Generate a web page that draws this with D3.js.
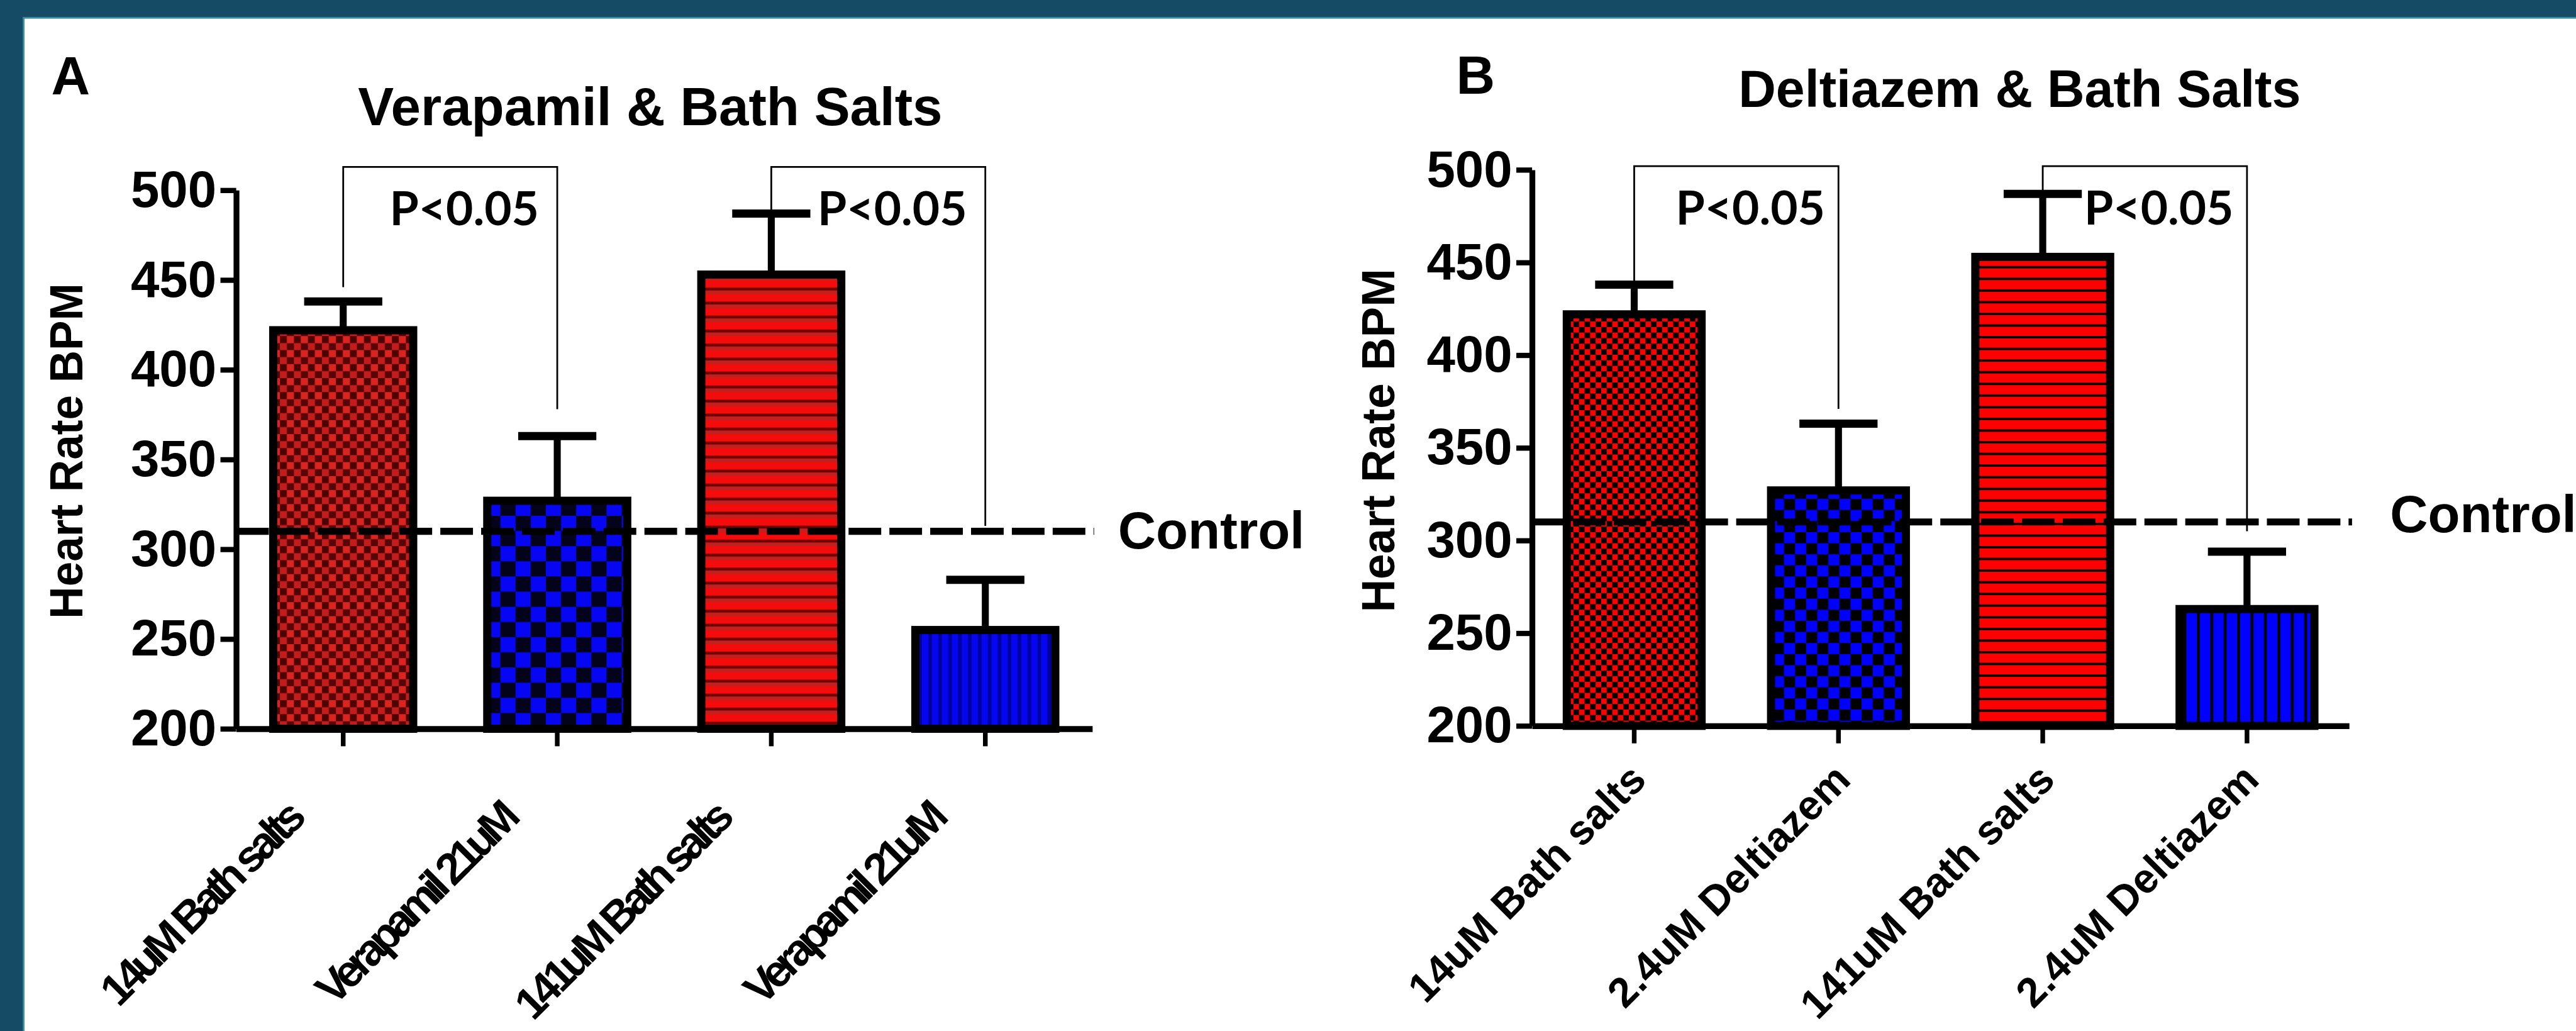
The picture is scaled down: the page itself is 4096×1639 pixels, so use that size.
<!DOCTYPE html>
<html>
<head>
<meta charset="utf-8">
<script src="https://cdn.jsdelivr.net/npm/d3@7"></script>
<style>
  html, body { margin: 0; padding: 0; background: #164b66; }
  svg { display: block; }
</style>
</head>
<body>
<svg id="chart"></svg>
<script>
// values (heart rate, BPM)
const yTicks = [200, 250, 300, 350, 400, 450, 500];
const controlBPM = 310;

const labelsA = ["14uM Bath salts", "Verapamil 21uM", "141uM Bath salts", "Verapamil 21uM"];
const meansA = [422, 327, 453, 255];
const semA = [16, 36, 34, 28];

const labelsB = ["14uM Bath salts", "2.4uM Deltiazem", "141uM Bath salts", "2.4uM Deltiazem"];
const meansB = [422, 327, 453, 263];
const semB = [16, 36, 34, 31];

// significance brackets: [left bar, right bar, top, left end, right end] (BPM)
const bracketsA = [[0, 1, 513, 446, 378], [2, 3, 513, 487, 313]];
const bracketsB = [[0, 1, 502, 440, 371], [2, 3, 502, 489, 305]];
const pText = "P<0.05";

const W = 4417, H = 1767;
const font = "'Liberation Sans', Arial, sans-serif";

const svg = d3.select("#chart")
  .attr("width", 4096).attr("height", 1639)
  .attr("viewBox", `0 0 ${W} ${H}`)
  .attr("preserveAspectRatio", "none");

// slide background
svg.append("rect").attr("width", W).attr("height", H).attr("fill", "#164b66");
svg.append("rect").attr("x", 39).attr("y", 29).attr("width", W).attr("height", H).attr("fill", "#3d8c9c");
svg.append("rect").attr("x", 42).attr("y", 32).attr("width", W).attr("height", H).attr("fill", "#fff");

// bar fills
const defs = svg.append("defs");
function addPattern(id, w, h, bg, rects) {
  const pat = defs.append("pattern").attr("id", id)
    .attr("patternUnits", "userSpaceOnUse").attr("width", w).attr("height", h);
  pat.append("rect").attr("width", w).attr("height", h).attr("fill", bg);
  rects.forEach(r => pat.append("rect")
    .attr("x", r[0]).attr("y", r[1]).attr("width", r[2]).attr("height", r[3]).attr("fill", r[4]));
}
addPattern("pA0", 24, 24, "#c21c1c", [[0, 0, 12, 12, "#4e0303"], [12, 12, 12, 12, "#560606"], [12, 0, 12, 12, "#da2420"]]);
addPattern("pA1", 52, 52, "#0606f2", [[0, 0, 26, 26, "#03031c"], [26, 26, 26, 26, "#03031c"]]);
addPattern("pA2", 24, 24, "#f40b0b", [[0, 13, 24, 5, "#700000"], [0, 18, 24, 6, "#bf2020"]]);
addPattern("pA3", 17, 17, "#0505f0", [[11, 0, 6, 17, "#00009c"]]);
addPattern("pB0", 19, 19, "#ff0000", [[0, 0, 9.5, 9.5, "#000"], [9.5, 9.5, 9.5, 9.5, "#000"]]);
addPattern("pB1", 38, 38, "#0000ff", [[0, 0, 19, 19, "#000"], [19, 19, 19, 19, "#000"]]);
addPattern("pB2", 20, 20, "#ff0000", [[0, 16, 20, 4, "#000"]]);
addPattern("pB3", 23, 23, "#0000ff", [[18, 0, 5, 23, "#000"]]);

const panels = [
  { letter: "A", title: "Verapamil & Bath Salts", labels: labelsA, means: meansA, sem: semA, brackets: bracketsA,
    fills: ["pA0", "pA1", "pA2", "pA3"],
    x0: 405, x1: 1873, yTop: 326, yBot: 1249, pad: 0.346,
    titleX: 1115, titleY: 215, titleSize: 92, letterX: 88, letterY: 162,
    yLabX: 141, yLabY: 773, yLabLen: 575,
    dashEnd: 1876, controlX: 1917, controlDy: 30,
    labDx: -66, labDy: 160, labSize: 76, squeeze: 0.78 },
  { letter: "B", title: "Deltiazem & Bath Salts", labels: labelsB, means: meansB, sem: semB, brackets: bracketsB,
    fills: ["pB0", "pB1", "pB2", "pB3"],
    x0: 2627, x1: 4028, yTop: 291, yBot: 1244, pad: 0.34,
    titleX: 3463, titleY: 183, titleSize: 89, letterX: 2497, letterY: 161,
    yLabX: 2391, yLabY: 755, yLabLen: 589,
    dashEnd: 4033, controlX: 4098, controlDy: 18,
    labDx: 24, labDy: 96, labSize: 71, squeeze: 1 }
];

panels.forEach(p => {
  const g = svg.append("g");

  const x = d3.scaleBand()
    .domain(d3.range(p.means.length))
    .range([p.x0, p.x1])
    .paddingInner(p.pad)
    .paddingOuter(p.pad / 2);
  const y = d3.scaleLinear().domain([200, 500]).range([p.yBot, p.yTop]);
  const cx = i => x(i) + x.bandwidth() / 2;

  // panel letter and title
  g.append("text").attr("x", p.letterX).attr("y", p.letterY)
    .attr("font-family", font).attr("font-weight", "bold").attr("font-size", 92)
    .text(p.letter);
  g.append("text").attr("x", p.titleX).attr("y", p.titleY)
    .attr("text-anchor", "middle")
    .attr("font-family", font).attr("font-weight", "bold").attr("font-size", p.titleSize)
    .text(p.title);

  // y axis title
  g.append("text")
    .attr("transform", `translate(${p.yLabX},${p.yLabY}) rotate(-90)`)
    .attr("text-anchor", "middle")
    .attr("font-family", font).attr("font-weight", "bold").attr("font-size", 80)
    .attr("textLength", p.yLabLen).attr("lengthAdjust", "spacingAndGlyphs")
    .text("Heart Rate BPM");

  // error bars (upper only)
  const err = g.append("g").attr("stroke", "#000");
  err.selectAll(".stem").data(p.means).join("line")
    .attr("x1", (d, i) => cx(i)).attr("x2", (d, i) => cx(i))
    .attr("y1", d => y(d)).attr("y2", (d, i) => y(d + p.sem[i]))
    .attr("stroke-width", 12);
  err.selectAll(".cap").data(p.means).join("line")
    .attr("x1", (d, i) => cx(i) - 67).attr("x2", (d, i) => cx(i) + 67)
    .attr("y1", (d, i) => y(d + p.sem[i])).attr("y2", (d, i) => y(d + p.sem[i]))
    .attr("stroke-width", 14);

  // bars
  g.selectAll(".bar").data(p.means).join("rect")
    .attr("x", (d, i) => x(i)).attr("width", x.bandwidth())
    .attr("y", d => y(d)).attr("height", d => y(200) - y(d))
    .attr("fill", (d, i) => `url(#${p.fills[i]})`)
    .attr("stroke", "#000").attr("stroke-width", 14);

  // significance brackets
  p.brackets.forEach(b => {
    const xl = cx(b[0]), xr = cx(b[1]);
    g.append("path")
      .attr("d", `M${xl},${y(b[3])}V${y(b[2])}H${xr}V${y(b[4])}`)
      .attr("fill", "none").attr("stroke", "#000").attr("stroke-width", 3);
    g.append("text")
      .attr("x", (xl + xr) / 2 + 24).attr("y", y(b[2]) + 100)
      .attr("text-anchor", "middle")
      .attr("font-family", "Lato, 'Open Sans', sans-serif").attr("font-weight", "bold")
      .attr("font-size", 80)
      .attr("textLength", 256).attr("lengthAdjust", "spacingAndGlyphs")
      .text(pText);
  });

  // control level
  g.append("line")
    .attr("x1", p.x0).attr("x2", p.dashEnd)
    .attr("y1", y(controlBPM)).attr("y2", y(controlBPM))
    .attr("stroke", "#000").attr("stroke-width", 12)
    .attr("stroke-dasharray", "56 14");
  g.append("text")
    .attr("x", p.controlX).attr("y", y(controlBPM) + p.controlDy)
    .attr("font-family", font).attr("font-weight", "bold").attr("font-size", 90)
    .text("Control");

  // axes
  const yAxis = g.append("g").attr("transform", `translate(${p.x0},0)`)
    .call(d3.axisLeft(y).tickValues(yTicks).tickSize(27).tickSizeOuter(0).tickPadding(7));
  yAxis.select(".domain").attr("stroke-width", 10);
  yAxis.selectAll(".tick line").attr("stroke-width", 9);
  yAxis.selectAll(".tick text")
    .attr("font-family", font).attr("font-weight", "bold").attr("font-size", 88);

  const xAxis = g.append("g").attr("transform", `translate(0,${p.yBot})`)
    .call(d3.axisBottom(x).tickSize(30).tickSizeOuter(0).tickFormat(i => p.labels[i]));
  xAxis.select(".domain").attr("stroke-width", 10);
  xAxis.selectAll(".tick line").attr("stroke-width", 8);
  const tl = xAxis.selectAll(".tick text")
    .attr("x", 0).attr("y", 0).attr("dy", 0)
    .attr("text-anchor", "end")
    .attr("transform", `translate(${p.labDx},${p.labDy}) rotate(-45)`)
    .attr("font-family", font).attr("font-weight", "bold").attr("font-size", p.labSize);
  // panel A labels are crammed together in the original: tighten letter spacing
  if (p.squeeze < 1) {
    tl.each(function (i) {
      const len = this.getComputedTextLength();
      const n = p.labels[i].length;
      d3.select(this).attr("letter-spacing", -(1 - p.squeeze) * len / n);
    });
  }
});
</script>
</body>
</html>
